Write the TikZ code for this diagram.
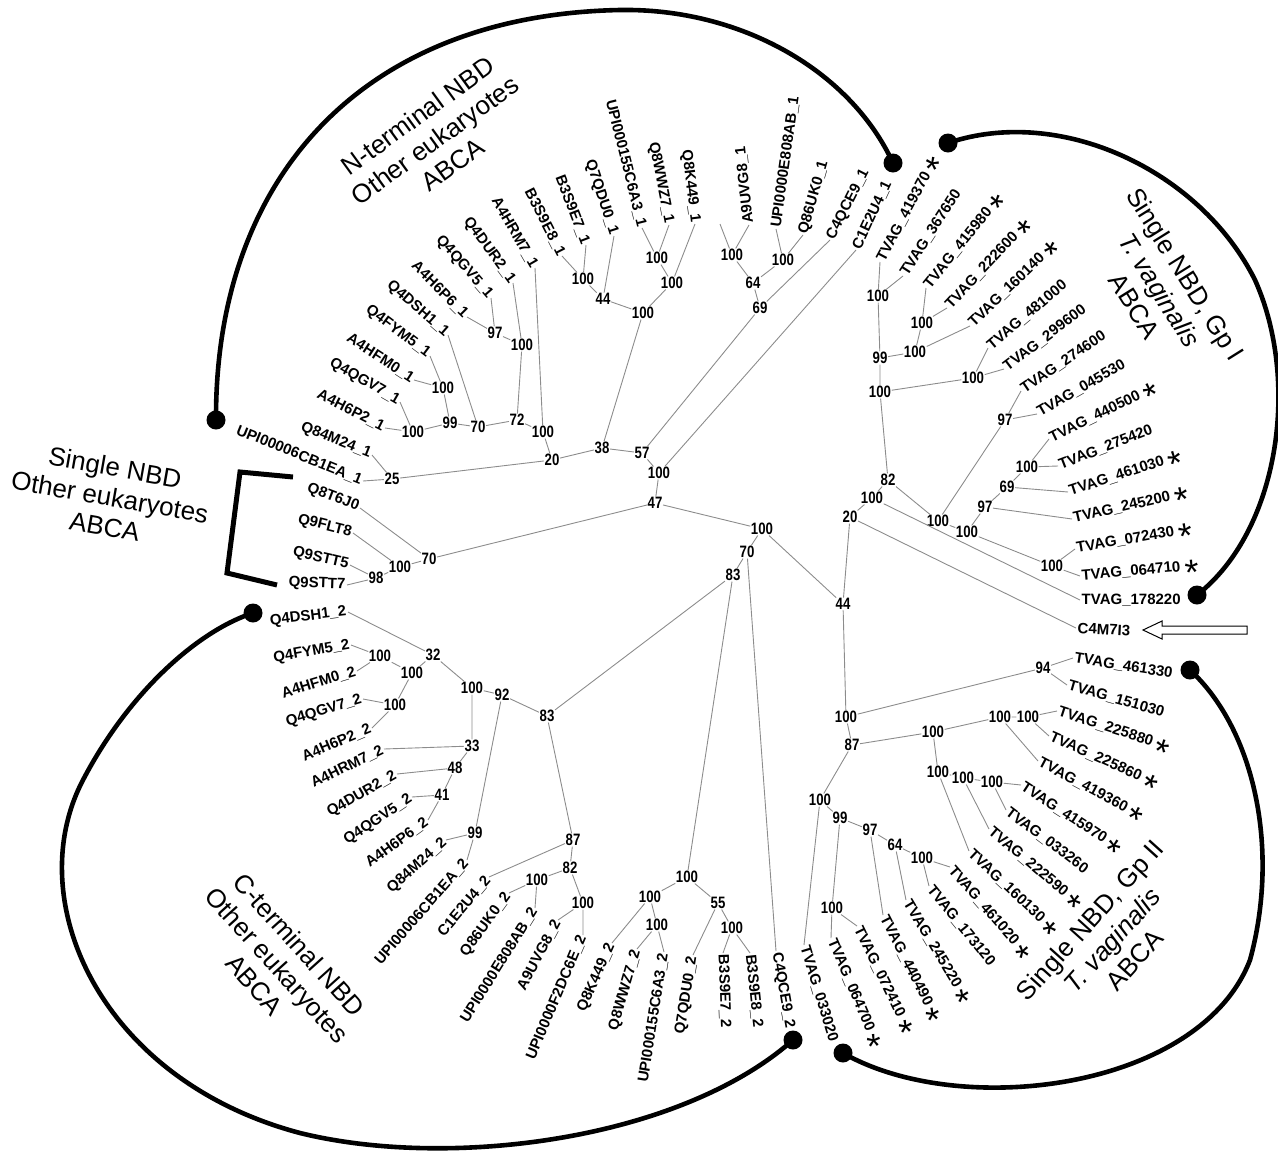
\documentclass[tikz,border=0pt]{standalone}
\usepackage{fontspec}
\setmainfont{Liberation Sans}
\newfontfamily\condsans[FakeStretch=0.8]{Liberation Sans}
\tikzset{
  leaf/.style={font=\bfseries\fontsize{15}{17}\selectfont, inner sep=1.5pt},
  boot/.style={font=\condsans\bfseries\fontsize{16.5}{18}\selectfont, inner sep=0.5pt},
  br/.style={draw=black!45, line width=0.9pt},
  clade/.style={font=\fontsize{26}{30}\selectfont, align=center},
  bound/.style={line width=4.6pt, line cap=round},
  endpt/.style={circle, fill=black, inner sep=0pt, minimum size=19pt}
}
\newcommand{\starmark}{~\raisebox{-14.5pt}[0pt][0pt]{\normalfont\fontsize{36}{36}\selectfont *}}
\begin{document}
\begin{tikzpicture}[x=1pt,y=-1pt]
\useasboundingbox (0,0) rectangle (1278,1157);

% bootstrap values, N-terminal part
\node[boot] (n25) at (392,479) {25};
\node[boot] (n20) at (552,460) {20};
\node[boot] (n38) at (602,448) {38};
\node[boot] (n57) at (642,453) {57};
\node[boot] (nc) at (659,473) {100};
\node[boot] (n47) at (655,503) {47};
\node[boot] (na) at (543,432) {100};
\node[boot] (n72) at (517,420) {72};
\node[boot] (nb) at (522,345) {100};
\node[boot] (n97) at (495,333) {97};
\node[boot] (n70) at (478,427) {70};
\node[boot] (n99) at (450,423) {99};
\node[boot] (nd) at (443,388) {100};
\node[boot] (ne) at (413,432) {100};
\node[boot] (nf) at (583,279) {100};
\node[boot] (n44) at (603,299) {44};
\node[boot] (ng) at (643,313) {100};
\node[boot] (nh) at (672,283) {100};
\node[boot] (ni) at (657,258) {100};
\node[boot] (n69) at (760,308) {69};
\node[boot] (n64) at (753,283) {64};
\node[boot] (nj) at (732,255) {100};
\node[boot] (nk) at (783,260) {100};
% single NBD, other eukaryotes
\node[boot] (s70) at (429,559) {70};
\node[boot] (s100) at (400,567) {100};
\node[boot] (s98) at (376,578) {98};
% centre
\node[boot] (m100) at (762,529) {100};
\node[boot] (m70) at (747,552) {70};
\node[boot] (m83) at (733,575) {83};
\node[boot] (m44) at (843,604) {44};
% Gp I
\node[boot] (p20) at (850,517) {20};
\node[boot] (pa) at (872,498) {100};
\node[boot] (p82) at (888,480) {82};
\node[boot] (pb) at (880,392) {100};
\node[boot] (p99) at (880,358) {99};
\node[boot] (pc) at (878,296) {100};
\node[boot] (pd) at (915,352) {100};
\node[boot] (pe) at (922,323) {100};
\node[boot] (pf) at (973,378) {100};
\node[boot] (pg) at (938,521) {100};
\node[boot] (p97a) at (1005,420) {97};
\node[boot] (ph) at (967,532) {100};
\node[boot] (p97b) at (985,507) {97};
\node[boot] (p69) at (1007,487) {69};
\node[boot] (pi) at (1027,467) {100};
\node[boot] (pj) at (1052,566) {100};
% Gp II
\node[boot] (q100) at (846,717) {100};
\node[boot] (q94) at (1043,668) {94};
\node[boot] (q87) at (852,745) {87};
\node[boot] (qa) at (933,732) {100};
\node[boot] (qb) at (1000,717) {100};
\node[boot] (qc) at (1028,717) {100};
\node[boot] (qd) at (938,772) {100};
\node[boot] (qe) at (963,778) {100};
\node[boot] (qf) at (992,782) {100};
\node[boot] (qg) at (820,800) {100};
\node[boot] (q99) at (840,818) {99};
\node[boot] (q97) at (870,830) {97};
\node[boot] (q64) at (895,845) {64};
\node[boot] (qh) at (922,858) {100};
\node[boot] (qi) at (832,908) {100};
% C-terminal part
\node[boot] (c83) at (547,716) {83};
\node[boot] (c92) at (502,695) {92};
\node[boot] (ca) at (472,688) {100};
\node[boot] (c32) at (433,655) {32};
\node[boot] (cb) at (412,673) {100};
\node[boot] (cc) at (380,656) {100};
\node[boot] (cd) at (395,705) {100};
\node[boot] (c33) at (472,746) {33};
\node[boot] (c48) at (455,768) {48};
\node[boot] (c41) at (442,795) {41};
\node[boot] (c99) at (475,833) {99};
\node[boot] (c87) at (573,840) {87};
\node[boot] (c82) at (570,868) {82};
\node[boot] (ce) at (537,880) {100};
\node[boot] (cf) at (583,903) {100};
\node[boot] (cg) at (687,877) {100};
\node[boot] (ch) at (650,897) {100};
\node[boot] (ci) at (657,925) {100};
\node[boot] (c55) at (718,903) {55};
\node[boot] (cj) at (732,928) {100};

% leaves, N-terminal
\node[leaf,rotate=-22,anchor=east] (UPIn) at (363,481) {UPI00006CB1EA\_1};
\node[leaf,rotate=-22,anchor=east] (Q84M24n) at (372,455) {Q84M24\_1};
\node[leaf,rotate=-27,anchor=east] (A4H6P2n) at (385,428) {A4H6P2\_1};
\node[leaf,rotate=-30,anchor=east] (Q4QGV7n) at (400,402) {Q4QGV7\_1};
\node[leaf,rotate=-33,anchor=east] (A4HFM0n) at (414,380) {A4HFM0\_1};
\node[leaf,rotate=-37,anchor=east] (Q4FYM5n) at (430,356) {Q4FYM5\_1};
\node[leaf,rotate=-41,anchor=east] (Q4DSH1n) at (448,335) {Q4DSH1\_1};
\node[leaf,rotate=-45,anchor=east] (A4H6P6n) at (467,317) {A4H6P6\_1};
\node[leaf,rotate=-49,anchor=east] (Q4QGV5n) at (491,298) {Q4QGV5\_1};
\node[leaf,rotate=-54,anchor=east] (Q4DUR2n) at (513,283) {Q4DUR2\_1};
\node[leaf,rotate=-60,anchor=east] (A4HRM7n) at (535,268) {A4HRM7\_1};
\node[leaf,rotate=-63,anchor=east] (B3S9E8n) at (562,256) {B3S9E8\_1};
\node[leaf,rotate=-69,anchor=east] (B3S9E7n) at (586,245) {B3S9E7\_1};
\node[leaf,rotate=-72,anchor=east] (Q7QDU0n) at (614,236) {Q7QDU0\_1};
\node[leaf,rotate=-76,anchor=east] (UPI155n) at (642,228) {UPI000155C6A3\_1};
\node[leaf,rotate=-79,anchor=east] (Q8WWZ7n) at (669,225) {Q8WWZ7\_1};
\node[leaf,rotate=-83,anchor=east] (Q8K449n) at (695,224) {Q8K449\_1};
\coordinate (blank) at (720,224);
\node[leaf,rotate=96,anchor=west] (A9UVG8n) at (749,225) {A9UVG8\_1};
\node[leaf,rotate=82,anchor=west] (UPIE808n) at (776,229) {UPI0000E808AB\_1};
\node[leaf,rotate=74,anchor=west] (Q86UK0n) at (803,235) {Q86UK0\_1};
\node[leaf,rotate=63,anchor=west] (C4QCE9n) at (830,240) {C4QCE9\_1};
\node[leaf,rotate=65,anchor=west] (C1E2U4n) at (856,250) {C1E2U4\_1};
% leaves, single NBD
\node[leaf,rotate=-21,anchor=east] (Q8T6J0) at (360,508) {Q8T6J0};
\node[leaf,rotate=-14,anchor=east] (Q9FLT8) at (353,533) {Q9FLT8};
\node[leaf,rotate=-13,anchor=east] (Q9STT5) at (350,565) {Q9STT5};
\node[leaf,rotate=-2,anchor=east] (Q9STT7) at (347,585) {Q9STT7};
% leaves, Gp I
\node[leaf,rotate=62,anchor=west] (T419370) at (880,262) {TVAG\_419370\starmark};
\node[leaf,rotate=57,anchor=west] (T367650) at (903,276) {TVAG\_367650};
\node[leaf,rotate=51,anchor=west] (T415980) at (926,288) {TVAG\_415980\starmark};
\node[leaf,rotate=47,anchor=west] (T222600) at (947,308) {TVAG\_222600\starmark};
\node[leaf,rotate=44,anchor=west] (T160140) at (970,326) {TVAG\_160140\starmark};
\node[leaf,rotate=40,anchor=west] (T481000) at (988,348) {TVAG\_481000};
\node[leaf,rotate=37,anchor=west] (T299600) at (1004,369) {TVAG\_299600};
\node[leaf,rotate=34,anchor=west] (T274600) at (1021,391) {TVAG\_274600};
\node[leaf,rotate=30,anchor=west] (T045530) at (1037,414) {TVAG\_045530};
\node[leaf,rotate=26,anchor=west] (T440500) at (1049,439) {TVAG\_440500\starmark};
\node[leaf,rotate=21,anchor=west] (T275420) at (1058,466) {TVAG\_275420};
\node[leaf,rotate=18,anchor=west] (T461030) at (1068,492) {TVAG\_461030\starmark};
\node[leaf,rotate=13,anchor=west] (T245200) at (1072,519) {TVAG\_245200\starmark};
\node[leaf,rotate=10,anchor=west] (T072430) at (1075,549) {TVAG\_072430\starmark};
\node[leaf,rotate=5,anchor=west] (T064710) at (1080,576) {TVAG\_064710\starmark};
\node[leaf,anchor=west] (T178220) at (1080,600) {TVAG\_178220};
\node[leaf,rotate=-3,anchor=west] (C4M7I3) at (1076,628) {C4M7I3};
% leaves, Gp II
\node[leaf,rotate=-9,anchor=west] (T461330) at (1073,658) {TVAG\_461330};
\node[leaf,rotate=-16,anchor=west] (T151030) at (1067,685) {TVAG\_151030};
\node[leaf,rotate=-18,anchor=west] (T225880) at (1057,711) {TVAG\_225880\starmark};
\node[leaf,rotate=-24,anchor=west] (T225860) at (1049,736) {TVAG\_225860\starmark};
\node[leaf,rotate=-28,anchor=west] (T419360) at (1038,761) {TVAG\_419360\starmark};
\node[leaf,rotate=-33,anchor=west] (T415970) at (1021,785) {TVAG\_415970\starmark};
\node[leaf,rotate=-37,anchor=west] (T033260) at (1006,810) {TVAG\_033260};
\node[leaf,rotate=-40,anchor=west] (T222590) at (989,829) {TVAG\_222590\starmark};
\node[leaf,rotate=-43,anchor=west] (T160130) at (969,851) {TVAG\_160130\starmark};
\node[leaf,rotate=-49,anchor=west] (T461020) at (950,867) {TVAG\_461020\starmark};
\node[leaf,rotate=-51,anchor=west] (T173120) at (929,886) {TVAG\_173120};
\node[leaf,rotate=-59,anchor=west] (T245220) at (906,900) {TVAG\_245220\starmark};
\node[leaf,rotate=-63,anchor=west] (T440490) at (883,915) {TVAG\_440490\starmark};
\node[leaf,rotate=-64,anchor=west] (T072410) at (857,926) {TVAG\_072410\starmark};
\node[leaf,rotate=-67,anchor=west] (T064700) at (831,938) {TVAG\_064700\starmark};
\node[leaf,rotate=-73,anchor=west] (T033020) at (804,945) {TVAG\_033020};
% leaves, C-terminal
\node[leaf,rotate=-80,anchor=west] (C4QCE9c) at (776,951) {C4QCE9\_2};
\node[leaf,rotate=-84,anchor=west] (B3S9E8c) at (750,953) {B3S9E8\_2};
\node[leaf,rotate=-88,anchor=west] (B3S9E7c) at (723,953) {B3S9E7\_2};
\node[leaf,rotate=81,anchor=east] (Q7QDU0c) at (693,955) {Q7QDU0\_2};
\node[leaf,rotate=81,anchor=east] (UPI155c) at (664,952) {UPI000155C6A3\_2};
\node[leaf,rotate=74,anchor=east] (Q8WWZ7c) at (637,949) {Q8WWZ7\_2};
\node[leaf,rotate=66,anchor=east] (Q8K449c) at (612,943) {Q8K449\_2};
\node[leaf,rotate=67,anchor=east] (UPIF2DCc) at (583,935) {UPI0000F2DC6E\_2};
\node[leaf,rotate=62,anchor=east] (A9UVG8c) at (558,920) {A9UVG8\_2};
\node[leaf,rotate=58,anchor=east] (UPIE808c) at (535,908) {UPI0000E808AB\_2};
\node[leaf,rotate=54,anchor=east] (Q86UK0c) at (509,893) {Q86UK0\_2};
\node[leaf,rotate=50,anchor=east] (C1E2U4c) at (489,877) {C1E2U4\_2};
\node[leaf,rotate=49,anchor=east] (UPIc) at (467,860) {UPI00006CB1EA\_2};
\node[leaf,rotate=42,anchor=east] (Q84M24c) at (446,840) {Q84M24\_2};
\node[leaf,rotate=36,anchor=east] (A4H6P6c) at (428,820) {A4H6P6\_2};
\node[leaf,rotate=34,anchor=east] (Q4QGV5c) at (412,797) {Q4QGV5\_2};
\node[leaf,rotate=30,anchor=east] (Q4DUR2c) at (397,774) {Q4DUR2\_2};
\node[leaf,rotate=26,anchor=east] (A4HRM7c) at (384,749) {A4HRM7\_2};
\node[leaf,rotate=23,anchor=east] (A4H6P2c) at (372,728) {A4H6P2\_2};
\node[leaf,rotate=17,anchor=east] (Q4QGV7c) at (363,699) {Q4QGV7\_2};
\node[leaf,rotate=17,anchor=east] (A4HFM0c) at (357,671) {A4HFM0\_2};
\node[leaf,rotate=10,anchor=east] (Q4FYM5c) at (351,645) {Q4FYM5\_2};
\node[leaf,rotate=7,anchor=east] (Q4DSH1c) at (348,612) {Q4DSH1\_2};

% branches
\draw[br] (n25) -- (n20) (n20) -- (na) (n20) -- (n38) (na) -- (n72) (na) -- (A4HRM7n.east)
  (n72) -- (nb) (n72) -- (n70) (nb) -- (Q4DUR2n.east) (nb) -- (n97)
  (n97) -- (A4H6P6n.east) (n97) -- (Q4QGV5n.east) (n70) -- (Q4DSH1n.east) (n70) -- (n99)
  (n99) -- (nd) (n99) -- (ne) (nd) -- (A4HFM0n.east) (nd) -- (Q4FYM5n.east)
  (ne) -- (Q4QGV7n.east) (ne) -- (A4H6P2n.east) (n25) -- (UPIn.east) (n25) -- (Q84M24n.east);
\draw[br] (n38) -- (ng) (n38) -- (n57) (ng) -- (n44) (ng) -- (nh) (n44) -- (nf)
  (n44) -- (Q7QDU0n.east) (nf) -- (B3S9E8n.east) (nf) -- (B3S9E7n.east) (nh) -- (ni)
  (nh) -- (Q8K449n.east) (ni) -- (UPI155n.east) (ni) -- (Q8WWZ7n.east);
\draw[br] (n57) -- (n69) (n57) -- (nc) (n69) -- (n64) (n69) -- (C4QCE9n.west) (n64) -- (nj)
  (n64) -- (nk) (nj) -- (blank) (nj) -- (A9UVG8n.west) (nk) -- (UPIE808n.west) (nk) -- (Q86UK0n.west)
  (nc) -- (C1E2U4n.west) (nc) -- (n47) (n47) -- (s70) (n47) -- (m100);
\draw[br] (s70) -- (Q8T6J0.east) (s70) -- (s100) (s100) -- (Q9FLT8.east) (s100) -- (s98)
  (s98) -- (Q9STT5.east) (s98) -- (Q9STT7.east);
\draw[br] (m100) -- (m70) (m100) -- (m44) (m70) -- (m83) (m70) -- (C4QCE9c.west)
  (m83) -- (c83) (m83) -- (cg) (m44) -- (p20) (m44) -- (q100);
\draw[br] (p20) -- (pa) (p20) -- (C4M7I3.west) (pa) -- (p82) (pa) -- (T178220.west)
  (p82) -- (pb) (p82) -- (pg) (pb) -- (p99) (pb) -- (pf) (p99) -- (pc) (p99) -- (pd)
  (pc) -- (T419370.west) (pc) -- (T367650.west) (pd) -- (pe) (pd) -- (T160140.west)
  (pe) -- (T415980.west) (pe) -- (T222600.west) (pf) -- (T481000.west) (pf) -- (T299600.west)
  (pg) -- (p97a) (pg) -- (ph) (p97a) -- (T274600.west) (p97a) -- (T045530.west)
  (ph) -- (p97b) (ph) -- (pj) (p97b) -- (p69) (p97b) -- (T245200.west)
  (p69) -- (pi) (p69) -- (T461030.west) (pi) -- (T440500.west) (pi) -- (T275420.west)
  (pj) -- (T072430.west) (pj) -- (T064710.west);
\draw[br] (q100) -- (q94) (q100) -- (q87) (q94) -- (T461330.west) (q94) -- (T151030.west)
  (q87) -- (qa) (q87) -- (qg) (qa) -- (qb) (qa) -- (qd) (qb) -- (qc) (qb) -- (T419360.west)
  (qc) -- (T225880.west) (qc) -- (T225860.west) (qd) -- (qe) (qd) -- (T160130.west)
  (qe) -- (qf) (qe) -- (T222590.west) (qf) -- (T415970.west) (qf) -- (T033260.west)
  (qg) -- (q99) (qg) -- (T033020.west) (q99) -- (q97) (q99) -- (qi) (q97) -- (q64)
  (q97) -- (T440490.west) (q64) -- (qh) (q64) -- (T245220.west) (qh) -- (T461020.west)
  (qh) -- (T173120.west) (qi) -- (T072410.west) (qi) -- (T064700.west);
\draw[br] (c83) -- (c92) (c83) -- (c87) (c92) -- (ca) (c92) -- (c99) (ca) -- (c32) (ca) -- (c33)
  (c32) -- (Q4DSH1c.east) (c32) -- (cb) (cb) -- (cc) (cb) -- (cd) (cc) -- (Q4FYM5c.east)
  (cc) -- (A4HFM0c.east) (cd) -- (Q4QGV7c.east) (cd) -- (A4H6P2c.east) (c33) -- (A4HRM7c.east)
  (c33) -- (c48) (c48) -- (Q4DUR2c.east) (c48) -- (c41) (c41) -- (Q4QGV5c.east)
  (c41) -- (A4H6P6c.east) (c99) -- (Q84M24c.east) (c99) -- (UPIc.east);
\draw[br] (c87) -- (C1E2U4c.east) (c87) -- (c82) (c82) -- (ce) (c82) -- (cf)
  (ce) -- (Q86UK0c.east) (ce) -- (UPIE808c.east) (cf) -- (A9UVG8c.east) (cf) -- (UPIF2DCc.east)
  (cg) -- (ch) (cg) -- (c55) (ch) -- (Q8K449c.east) (ch) -- (ci) (ci) -- (Q8WWZ7c.east)
  (ci) -- (UPI155c.east) (c55) -- (Q7QDU0c.east) (c55) -- (cj) (cj) -- (B3S9E7c.west)
  (cj) -- (B3S9E8c.west);

% clade labels
\node[clade,rotate=36] (labN) at (435,140) {N-terminal NBD\\Other eukaryotes\\ABCA};
\node[clade,rotate=-10] (labS) at (110,497) {Single NBD\\Other eukaryotes\\ABCA};
\node[clade,rotate=-58] (labG1) at (1160,290) {Single NBD, Gp I\\\textit{T. vaginalis}\\ABCA};
\node[clade,rotate=48] (labG2) at (1112,940) {Single NBD, Gp II\\\textit{T. vaginalis}\\ABCA};
\node[clade,rotate=-48] (labC) at (277,965) {C-terminal NBD\\Other eukaryotes\\ABCA};

% clade boundaries
\node[endpt] (dNa) at (216,420) {};
\node[endpt] (dNb) at (893,163) {};
\node[endpt] (dGa) at (948,143) {};
\node[endpt] (dGb) at (1197,595) {};
\node[endpt] (dHa) at (1190,670) {};
\node[endpt] (dHb) at (843,1053) {};
\node[endpt] (dCa) at (793,1040) {};
\node[endpt] (dCb) at (253,613) {};
\draw[bound] (dNa.center) .. controls (215,180) and (360,15) .. (620,10)
  .. controls (740,8) and (850,70) .. (dNb.center);
\draw[bound] (dGa.center) .. controls (1060,105) and (1200,170) .. (1255,280)
  .. controls (1300,380) and (1280,530) .. (dGb.center);
\draw[bound] (dHa.center) .. controls (1255,730) and (1280,850) .. (1250,960)
  .. controls (1200,1090) and (960,1120) .. (dHb.center);
\draw[bound] (dCa.center) .. controls (680,1140) and (450,1170) .. (300,1133)
  .. controls (100,1080) and (20,900) .. (83,780)
  .. controls (130,690) and (200,630) .. (dCb.center);
\draw[line width=5pt] (293,477) -- (240,472) -- (227,573) -- (277,585);

% marker for C4M7I3
\draw[line width=1pt, fill=white] (1143,630) -- (1162,621) -- (1162,626) -- (1247,626)
  -- (1247,634) -- (1162,634) -- (1162,639) -- cycle;
\end{tikzpicture}
\end{document}
